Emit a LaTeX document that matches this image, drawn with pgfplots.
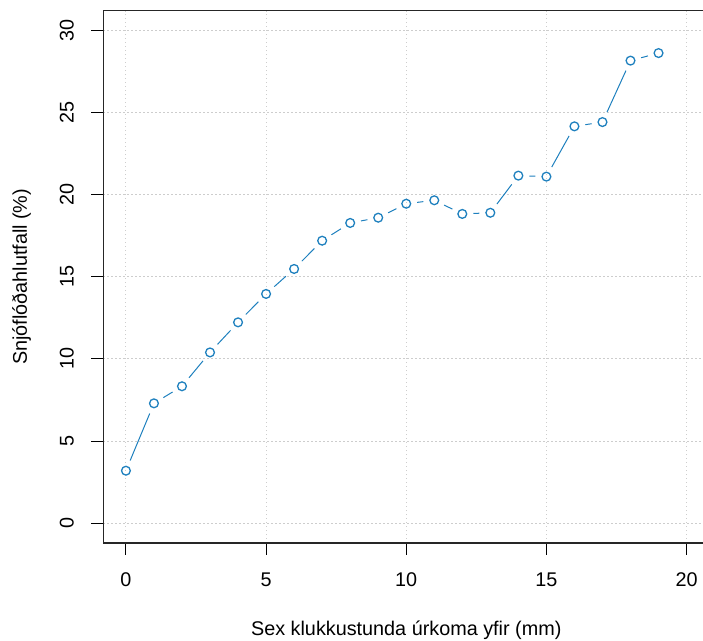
\documentclass[border=0pt]{standalone}
\usepackage{fontspec}
\setmainfont{Liberation Sans}
\usepackage{pgfplots}
\pgfplotsset{compat=1.18}
\definecolor{ptblue}{RGB}{30,128,190}
\definecolor{gridc}{RGB}{205,205,205}
\begin{document}
\begin{tikzpicture}
\begin{axis}[
  scale only axis,
  width=302.75pt, height=266.15pt,
  xmin=-0.8, xmax=20.8, ymin=-1.2, ymax=31.2,
  xtick={0,5,10,15,20}, ytick={0,5,10,15,20,25,30},
  /pgf/number format/assume math mode=true,
  tick label style={font=\fontsize{9.9}{11}\selectfont},
  label style={font=\fontsize{9.9}{11}\selectfont},
  tick align=outside, major tick length=6pt,
  tick style={black, line width=0.5pt},
  xtick pos=bottom, ytick pos=left,
  axis line style={black!85, line width=0.6pt},
  xticklabel shift=5.3pt,
  yticklabel shift=5.3pt,
  yticklabel style={rotate=90, anchor=south},
  grid=major,
  major grid style={gridc, line width=0.5pt, dash pattern=on 0.6pt off 1.4pt},
  xlabel={Sex klukkustunda úrkoma yfir (mm)},
  ylabel={Snjóflóðahlutfall (\%)},
  xlabel style={at={(axis description cs:0.5,-0.1636)}, anchor=center},
  ylabel style={at={(axis description cs:-0.1351,0.5)}, anchor=center, rotate=0},
  every axis plot/.append style={ptblue, line width=0.5pt},
]
\pgfplotsset{seg/.style={no marks, shorten >=5.5pt, shorten <=5.5pt}}
\addplot[seg] coordinates {(0,3.2) (1,7.3)};
\addplot[seg] coordinates {(1,7.3) (2,8.34)};
\addplot[seg] coordinates {(2,8.34) (3,10.4)};
\addplot[seg] coordinates {(3,10.4) (4,12.23)};
\addplot[seg] coordinates {(4,12.23) (5,13.96)};
\addplot[seg] coordinates {(5,13.96) (6,15.48)};
\addplot[seg] coordinates {(6,15.48) (7,17.2)};
\addplot[seg] coordinates {(7,17.2) (8,18.28)};
\addplot[seg] coordinates {(8,18.28) (9,18.6)};
\addplot[seg] coordinates {(9,18.6) (10,19.45)};
\addplot[seg] coordinates {(10,19.45) (11,19.66)};
\addplot[seg] coordinates {(11,19.66) (12,18.83)};
\addplot[seg] coordinates {(12,18.83) (13,18.9)};
\addplot[seg] coordinates {(13,18.9) (14,21.16)};
\addplot[seg] coordinates {(14,21.16) (15,21.1)};
\addplot[seg] coordinates {(15,21.1) (16,24.16)};
\addplot[seg] coordinates {(16,24.16) (17,24.42)};
\addplot[seg] coordinates {(17,24.42) (18,28.16)};
\addplot[seg] coordinates {(18,28.16) (19,28.62)};
\addplot[only marks, mark=o, mark size=2.2pt, mark options={line width=0.65pt}] coordinates {
(0,3.2) (1,7.3) (2,8.34) (3,10.4) (4,12.23) (5,13.96) (6,15.48) (7,17.2) (8,18.28) (9,18.6)
(10,19.45) (11,19.66) (12,18.83) (13,18.9) (14,21.16) (15,21.1) (16,24.16) (17,24.42) (18,28.16) (19,28.62)};
\coordinate (bl) at (rel axis cs:0,0);
\end{axis}
\pgfresetboundingbox
\path[use as bounding box] ([xshift=-51.75pt,yshift=-49pt]bl) rectangle ([xshift=299.75pt,yshift=271.5pt]bl);
\end{tikzpicture}
\end{document}
